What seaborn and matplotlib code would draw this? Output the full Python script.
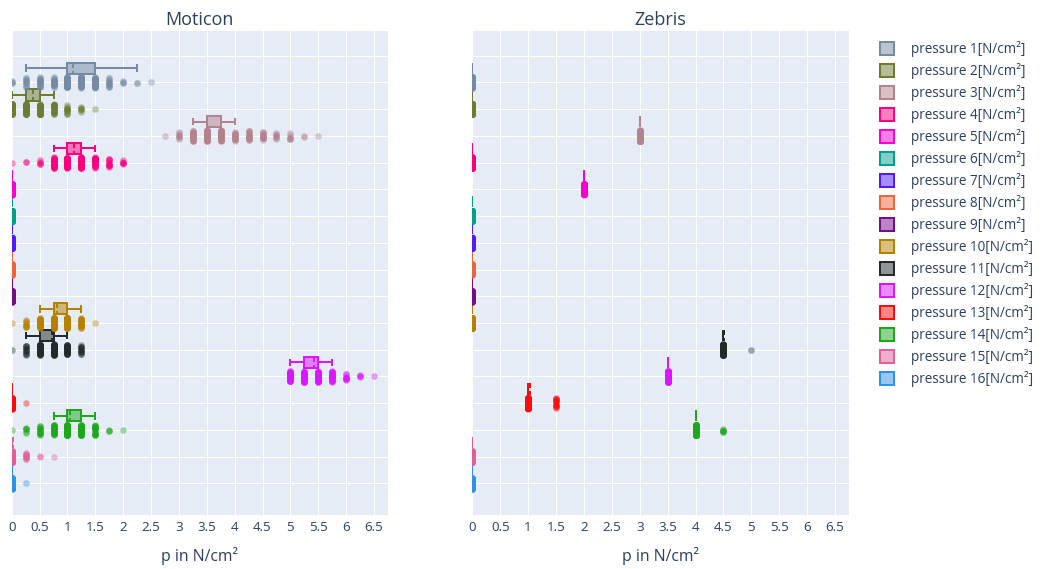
import numpy as np
import matplotlib
matplotlib.use("Agg")
import matplotlib.pyplot as plt
from matplotlib.patches import Patch
from matplotlib.colors import to_rgba
import seaborn as sns

# ---------------- data ----------------
pressure_labels = [
    "pressure 1[N/cm²]", "pressure 2[N/cm²]", "pressure 3[N/cm²]", "pressure 4[N/cm²]",
    "pressure 5[N/cm²]", "pressure 6[N/cm²]", "pressure 7[N/cm²]", "pressure 8[N/cm²]",
    "pressure 9[N/cm²]", "pressure 10[N/cm²]", "pressure 11[N/cm²]", "pressure 12[N/cm²]",
    "pressure 13[N/cm²]", "pressure 14[N/cm²]", "pressure 15[N/cm²]", "pressure 16[N/cm²]",
]
colors = [
    "#778AA3", "#6C7C32", "#B2828D", "#FC0080", "#FB00D1", "#00A08B", "#511CFB", "#EB663B",
    "#750D86", "#B68100", "#222A2A", "#DA16FF", "#FB0D0D", "#1CA71C", "#E15F99", "#2E91E5",
]
x_ticks = [0, 0.5, 1, 1.5, 2, 2.5, 3, 3.5, 4, 4.5, 5, 5.5, 6, 6.5]

# value -> number of samples (Moticon)
moticon_p1 = {0.0: 4, 0.25: 12, 0.5: 20, 0.75: 25, 1.0: 80, 1.25: 40, 1.5: 60, 1.75: 12, 2.0: 4, 2.25: 2, 2.5: 1}
moticon_p2 = {0.0: 50, 0.25: 80, 0.5: 70, 0.75: 25, 1.0: 12, 1.25: 6, 1.5: 1}
moticon_p3 = {2.75: 1, 3.0: 8, 3.25: 30, 3.5: 90, 3.75: 100, 4.0: 20, 4.25: 18, 4.5: 15, 4.75: 8, 5.0: 7, 5.25: 2, 5.5: 1}
moticon_p4 = {0.0: 1, 0.25: 2, 0.5: 5, 0.75: 40, 1.0: 110, 1.25: 75, 1.5: 30, 1.75: 12, 2.0: 6}
moticon_p5 = {0.0: 200}
moticon_p6 = {0.0: 200}
moticon_p7 = {0.0: 200}
moticon_p8 = {0.0: 200}
moticon_p9 = {0.0: 200}
moticon_p10 = {0.0: 1, 0.25: 10, 0.5: 40, 0.75: 80, 1.0: 70, 1.25: 25, 1.5: 1}
moticon_p11 = {0.0: 1, 0.25: 12, 0.5: 60, 0.75: 100, 1.0: 35, 1.25: 12}
moticon_p12 = {5.0: 40, 5.25: 60, 5.5: 70, 5.75: 35, 6.0: 10, 6.25: 4, 6.5: 1}
moticon_p13 = {0.0: 200, 0.25: 1}
moticon_p14 = {0.0: 1, 0.25: 6, 0.5: 15, 0.75: 30, 1.0: 90, 1.25: 70, 1.5: 20, 1.75: 3, 2.0: 1}
moticon_p15 = {0.0: 200, 0.25: 10, 0.5: 2, 0.75: 1}
moticon_p16 = {0.0: 200, 0.25: 1}

# value -> number of samples (Zebris)
zebris_p1 = {0.0: 200}
zebris_p2 = {0.0: 200}
zebris_p3 = {3.0: 200}
zebris_p4 = {0.0: 200}
zebris_p5 = {2.0: 200}
zebris_p6 = {0.0: 200}
zebris_p7 = {0.0: 200}
zebris_p8 = {0.0: 200}
zebris_p9 = {0.0: 200}
zebris_p10 = {0.0: 200}
zebris_p11 = {4.5: 200, 5.0: 1}
zebris_p12 = {3.5: 200}
zebris_p13 = {1.0: 200, 1.5: 15}
zebris_p14 = {4.0: 200, 4.5: 6}
zebris_p15 = {0.0: 200}
zebris_p16 = {0.0: 200}

moticon = [moticon_p1, moticon_p2, moticon_p3, moticon_p4, moticon_p5, moticon_p6, moticon_p7, moticon_p8,
           moticon_p9, moticon_p10, moticon_p11, moticon_p12, moticon_p13, moticon_p14, moticon_p15, moticon_p16]
zebris = [zebris_p1, zebris_p2, zebris_p3, zebris_p4, zebris_p5, zebris_p6, zebris_p7, zebris_p8,
          zebris_p9, zebris_p10, zebris_p11, zebris_p12, zebris_p13, zebris_p14, zebris_p15, zebris_p16]

# ---------------- style ----------------
plt.rcParams["font.family"] = ["Open Sans", "DejaVu Sans"]
TEXT = "#2a3f5f"
BG = "#E5ECF6"
PX = 0.72  # points per pixel at dpi 100

np.random.seed(7)

W, H = 1043, 569
fig = plt.figure(figsize=(W / 100, H / 100), dpi=100)
ax_m = fig.add_axes([11.7 / W, 1 - 515 / H, 376 / W, 484 / H])
ax_z = fig.add_axes([472.3 / W, 1 - 515 / H, 376.4 / W, 484 / H])

BOX_OFF = 0.53


def draw(ax, dists, title):
    ax.set_facecolor(BG)
    for i, (dist, col) in enumerate(zip(dists, colors), start=1):
        vals = np.repeat(np.array(list(dist.keys()), dtype=float), list(dist.values()))
        sns.boxplot(
            x=vals, y=np.full(len(vals), i - BOX_OFF), orient="h", native_scale=True,
            width=0.42, color=col, linecolor=col, saturation=1, linewidth=2 * PX,
            showfliers=False, showmeans=True, meanline=True,
            boxprops=dict(facecolor=to_rgba(col, 0.5)),
            meanprops=dict(color=col, linestyle=(0, (2.5, 1.5)), linewidth=2 * PX),
            ax=ax,
        )
        for v, c in dist.items():
            sns.stripplot(
                x=np.full(c, float(v)), y=np.full(c, float(i)), orient="h", native_scale=True,
                jitter=0.2 * min(1.0, c / 12.0), color=col, alpha=0.4, size=6.6 * PX,
                linewidth=0, ax=ax,
            )
    ax.set_xlim(0, 6.745)
    ax.set_ylim(17.18, -0.92)
    ax.set_xticks(x_ticks)
    ax.set_xticklabels([f"{t:g}" for t in x_ticks], color=TEXT, fontsize=13.4 * PX)
    ax.set_yticks(range(0, 17))
    ax.set_yticklabels([])
    ax.tick_params(axis="both", length=0, pad=4)
    ax.grid(True, color="white", linewidth=1 * PX)
    ax.set_axisbelow(True)
    for s in ax.spines.values():
        s.set_visible(False)
    ax.set_xlabel("p in N/cm²", color=TEXT, fontsize=15.8 * PX, labelpad=9.5)
    ax.set_ylabel("")
    ax.set_title(title, color=TEXT, fontsize=18 * PX, pad=4.5)


draw(ax_m, moticon, "Moticon")
draw(ax_z, zebris, "Zebris")

FS = 13.5
handles = [Patch(facecolor=to_rgba(c, 0.5), edgecolor=c, linewidth=2 * PX) for c in colors]
fig.legend(
    handles, pressure_labels, loc="upper left", bbox_to_anchor=(880 / W, 1 - 41 / H),
    frameon=False, fontsize=FS * PX, handlelength=14.4 / FS, handleheight=14.4 / FS,
    labelspacing=0.445, handletextpad=16.5 / FS, borderpad=0, borderaxespad=0, labelcolor=TEXT,
)

fig.savefig("out.png", dpi=100, facecolor="white")
